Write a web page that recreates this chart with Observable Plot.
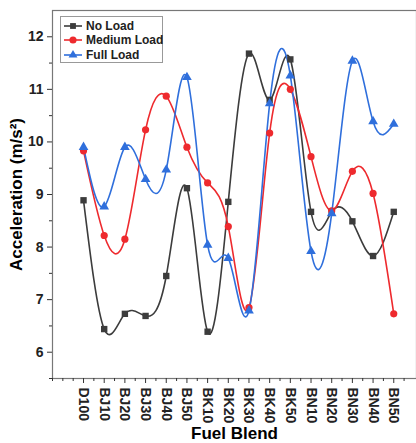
<!DOCTYPE html>
<html><head><meta charset="utf-8">
<script src="https://cdn.jsdelivr.net/npm/d3@7"></script>
<script src="https://cdn.jsdelivr.net/npm/@observablehq/plot@0.6"></script>
<style>
body{margin:0;background:#fff;font-family:"Liberation Sans",Arial,sans-serif;}
#wrap{position:relative;width:416px;height:443px;}
#legend{position:absolute;left:60px;top:16px;width:101px;height:45px;border:1px solid #999;background:#fff;font-weight:bold;font-size:12px;color:#222;white-space:nowrap;}
#legend .row{position:absolute;left:2px;height:15px;display:flex;align-items:center;}
#legend svg{margin-right:3px;}
</style></head>
<body><div id="wrap"><div id="chart"></div><div id="legend"></div></div>
<script>
const blends = ["D100","BJ10","BJ20","BJ30","BJ40","BJ50","BK10","BK20","BK30","BK40","BK50","BN10","BN20","BN30","BN40","BN50"];
const noLoad = [8.89,6.44,6.73,6.69,7.45,9.12,6.39,8.86,11.68,10.80,11.57,8.67,8.67,8.49,7.83,8.67];
const mediumLoad = [9.83,8.22,8.15,10.23,10.87,9.90,9.22,8.39,6.85,10.17,11.00,9.72,8.69,9.44,9.02,6.73];
const fullLoad = [9.90,8.77,9.90,9.29,9.47,11.23,8.04,7.79,6.79,10.73,11.26,7.92,8.64,11.54,10.39,10.34];
const seriesNames = ["No Load","Medium Load","Full Load"];
const colors = ["#3c3c3c","#ee2a2e","#2f6fdc"];
const symbols = ["square","circle","triangle"];
const yTicks = [6,7,8,9,10,11,12];

const allSeries = [noLoad, mediumLoad, fullLoad];
const data = [];
allSeries.forEach((vals, s) => vals.forEach((v, i) => data.push({i, v, s: seriesNames[s]})));

const marks = [];
seriesNames.forEach((name, s) => {
  const d = data.filter(r => r.s === name);
  marks.push(Plot.line(d, {x: "i", y: "v", stroke: colors[s], strokeWidth: 1.6, curve: "natural"}));
});
seriesNames.forEach((name, s) => {
  const d = data.filter(r => r.s === name);
  marks.push(Plot.dot(d, {x: "i", y: "v", fill: colors[s], stroke: "none", symbol: symbols[s], r: 3.6}));
});
const blank = () => "";

const chart = Plot.plot({
  width: 416, height: 443,
  marginLeft: 52, marginRight: 0, marginTop: 10, marginBottom: 65,
  style: {fontFamily: "'Liberation Sans', Arial, sans-serif", background: "#fff", overflow: "visible"},
  x: {domain: [-1.5, 16.1], axis: null},
  y: {domain: [5.5, 12.5], axis: null},
  marks: [
    Plot.frame({stroke: "#777", strokeWidth: 1.2}),
    Plot.axisY(yTicks, {anchor: "left", tickSize: 5, tickPadding: 4, fontSize: 14, fontWeight: "bold", tickFormat: d => d, stroke: "#333", fill: "#222", label: null}),
    Plot.axisY(d3.range(5.5, 12.5, 0.5).filter(v => v % 1 !== 0), {anchor: "left", tickSize: 3, tickFormat: blank, stroke: "#333", label: null}),
    Plot.axisY([], {anchor: "left", label: "Acceleration (m/s²)", labelAnchor: "center", labelArrow: "none", labelOffset: 43, fontSize: 17, fontWeight: "bold"}),
    Plot.axisX(d3.range(16), {anchor: "bottom", tickSize: 5, tickPadding: 4, tickRotate: 90, fontSize: 14, fontWeight: "bold", tickFormat: i => blends[i], stroke: "#333", fill: "#222", label: null}),
    Plot.axisX(d3.range(-1.5, 16.5, 0.5).filter(v => v % 1 !== 0 || v < 0), {anchor: "bottom", tickSize: 3, tickFormat: blank, stroke: "#333", label: null}),
    Plot.axisX([], {anchor: "bottom", label: "Fuel Blend", labelAnchor: "center", labelArrow: "none", labelOffset: 60, fontSize: 17, fontWeight: "bold"}),
    ...marks
  ]
});
document.getElementById("chart").appendChild(chart);

// legend
const legend = document.getElementById("legend");
seriesNames.forEach((name, s) => {
  const row = document.createElement("div");
  row.className = "row";
  row.style.top = (1 + s * 14.5) + "px";
  const sym = d3.symbol(s === 0 ? d3.symbolSquare : s === 1 ? d3.symbolCircle : d3.symbolTriangle, s === 1 ? 40 : 34)();
  row.innerHTML = `<svg width="20" height="12"><line x1="1" x2="19" y1="6" y2="6" stroke="${colors[s]}" stroke-width="1.6"/><path d="${sym}" transform="translate(10,6)" fill="${colors[s]}"/></svg><span>${name}</span>`;
  legend.appendChild(row);
});
</script></body></html>
